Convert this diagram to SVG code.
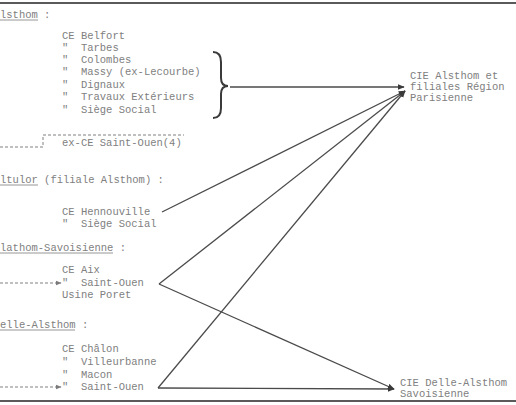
<svg xmlns="http://www.w3.org/2000/svg" width="516" height="405" viewBox="0 0 516 405" xml:space="preserve">
<defs>
<style>
.t{font-family:"Liberation Mono","DejaVu Sans Mono",monospace;font-size:10.5px;fill:#808080;white-space:pre}
.ln{stroke:#4a4a4a;stroke-width:1.3;fill:none}
.ul{stroke:#8a8a8a;stroke-width:0.9;fill:none}
.dash{stroke:#808080;stroke-width:1;fill:none;stroke-dasharray:3 2}
.border{stroke:#5a5a5a;stroke-width:2}
</style>
<marker id="ah" viewBox="0 0 10 10" refX="9" refY="5" markerWidth="7" markerHeight="7" orient="auto" markerUnits="userSpaceOnUse">
<path d="M0,1 L10,5 L0,9 Z" fill="#3a3a3a"/>
</marker>
<marker id="ahs" viewBox="0 0 10 10" refX="9" refY="5" markerWidth="6" markerHeight="6" orient="auto" markerUnits="userSpaceOnUse">
<path d="M0,1 L10,5 L0,9 Z" fill="#7a7a7a"/>
</marker>
</defs>
<rect width="516" height="405" fill="#ffffff"/>
<line class="border" x1="0" y1="3" x2="516" y2="3"/>
<line class="border" x1="0" y1="401" x2="516" y2="401"/>

<g id="alsthom">
<text class="t" x="0" y="18">lsthom :</text>
<line class="ul" x1="0" y1="20" x2="38" y2="20"/>
<text class="t" x="62" y="39">CE Belfort</text>
<text class="t" x="62" y="51">"  Tarbes</text>
<text class="t" x="62" y="63">"  Colombes</text>
<text class="t" x="62" y="75">"  Massy (ex-Lecourbe)</text>
<text class="t" x="62" y="88">"  Dignaux</text>
<text class="t" x="62" y="100">"  Travaux Extérieurs</text>
<text class="t" x="62" y="113">"  Siège Social</text>
<path id="brace" d="M213,52 Q221,52 221,62 V78 Q221,86 228,86 Q221,86 221,94 V108 Q221,118 213,118" stroke="#3a3a3a" stroke-width="2" fill="none"/>
</g>

<g id="ex-ce-saint-ouen">
<path class="dash" d="M0,147 H43 V135 H184"/>
<text class="t" x="62" y="146">ex-CE Saint-Ouen(4)</text>
</g>

<g id="cie-alsthom">
<text class="t" x="410" y="79">CIE Alsthom et</text>
<text class="t" x="410" y="90">filiales Région</text>
<text class="t" x="410" y="101">Parisienne</text>
</g>

<g id="altulor">
<text class="t" x="0" y="183">ltulor (filiale Alsthom) :</text>
<line class="ul" x1="0" y1="185" x2="38" y2="185"/>
<text class="t" x="62" y="215">CE Hennouville</text>
<text class="t" x="62" y="227">"  Siège Social</text>
</g>

<g id="savoisienne">
<text class="t" x="0" y="251">lathom-Savoisienne :</text>
<line class="ul" x1="0" y1="253" x2="113" y2="253"/>
<text class="t" x="62" y="273">CE Aix</text>
<text class="t" x="62" y="286">"  Saint-Ouen</text>
<text class="t" x="62" y="298">Usine Poret</text>
</g>

<g id="delle">
<text class="t" x="0" y="328">elle-Alsthom :</text>
<line class="ul" x1="0" y1="330" x2="75" y2="330"/>
<text class="t" x="62" y="352">CE Châlon</text>
<text class="t" x="62" y="365">"  Villeurbanne</text>
<text class="t" x="62" y="378">"  Macon</text>
<text class="t" x="62" y="390">"  Saint-Ouen</text>
</g>

<g id="cie-delle">
<text class="t" x="400" y="386">CIE Delle-Alsthom</text>
<text class="t" x="400" y="397">Savoisienne</text>
</g>

<g id="connectors">
<line class="ln" x1="230" y1="87" x2="404" y2="87" marker-end="url(#ah)"/>
<line class="ln" x1="162" y1="212" x2="405" y2="91" marker-end="url(#ah)"/>
<line class="ln" x1="159" y1="284" x2="405" y2="91" marker-end="url(#ah)"/>
<line class="ln" x1="158" y1="388" x2="405" y2="91" marker-end="url(#ah)"/>
<line class="ln" x1="159" y1="284" x2="394" y2="389" marker-end="url(#ah)"/>
<line class="ln" x1="158" y1="388" x2="394" y2="389" marker-end="url(#ah)"/>
<line class="dash" x1="0" y1="283" x2="61" y2="283" marker-end="url(#ahs)"/>
<line class="dash" x1="0" y1="387" x2="61" y2="387" marker-end="url(#ahs)"/>
</g>
</svg>
